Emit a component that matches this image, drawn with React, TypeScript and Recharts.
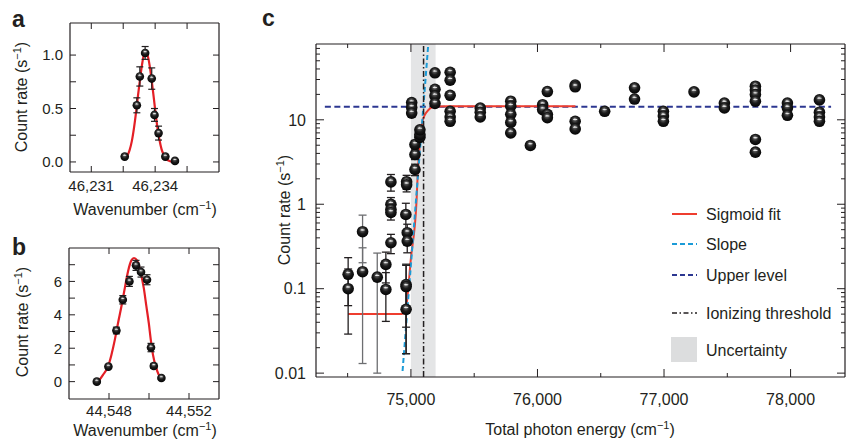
import React from "react";
import {
  ComposedChart,
  XAxis,
  YAxis,
  Line,
  Scatter,
  ErrorBar,
  ReferenceLine,
  ReferenceArea,
} from "recharts";

const INK = "#231f20";
const FONT = "'Liberation Sans', Arial, Helvetica, sans-serif";
const FIT_RED = "#e41f26";
const SIG_RED = "#ee3d2f";
const NAVY = "#2c3791";
const CYAN = "#1b9bd7";
const BAND = "#e4e5e6";

// ---- panel a
const aX = [46232.57, 46233.14, 46233.28, 46233.53, 46233.84, 46233.97, 46234.16, 46234.48, 46234.93];
const aY = [0.05, 0.53, 0.8, 1.02, 0.78, 0.44, 0.27, 0.05, 0.01];
const aErr = [0.015, 0.07, 0.09, 0.06, 0.1, 0.06, 0.065, 0.015, 0.01];
const aFitX = [
  46232.6, 46232.7, 46232.8, 46232.9, 46233.0, 46233.1, 46233.2, 46233.3, 46233.4, 46233.5, 46233.6, 46233.7,
  46233.8, 46233.9, 46234.0, 46234.1, 46234.2, 46234.3, 46234.4, 46234.5, 46234.6, 46234.7, 46234.8, 46234.9,
];
const aFitY = [
  0.03, 0.06, 0.11, 0.19, 0.31, 0.46, 0.63, 0.79, 0.93, 1.02, 1.02, 0.95, 0.82, 0.66, 0.49, 0.33, 0.21, 0.12,
  0.07, 0.03, 0.016, 0.007, 0.003, 0.001,
];
const aXMajor = [46231, 46234];
const aXLabels = ["46,231", "46,234"];
const aXMinor = [46232.5, 46235.5];
const aYMajor = [0, 0.5, 1];
const aYLabels = ["0.0", "0.5", "1.0"];
const aYMinor = [0.25, 0.75];

// ---- panel b
const bX = [44547.39, 44547.97, 44548.37, 44548.69, 44549.02, 44549.35, 44549.6, 44549.9, 44550.1, 44550.24, 44550.62];
const bY = [0.0, 0.9, 3.06, 4.9, 6.0, 6.96, 6.56, 6.1, 2.04, 0.94, 0.22];
const bErr = [0.05, 0.1, 0.2, 0.25, 0.3, 0.3, 0.3, 0.3, 0.25, 0.15, 0.1];
const bFitX = [
  44547.49, 44547.7, 44547.95, 44548.12, 44548.29, 44548.45, 44548.62, 44548.79, 44548.95, 44549.12, 44549.25,
  44549.4, 44549.57, 44549.74, 44549.87, 44549.99, 44550.09, 44550.2, 44550.34, 44550.47, 44550.62,
];
const bFitY = [0.04, 0.4, 0.9, 1.6, 2.5, 3.5, 4.5, 5.6, 6.6, 7.26, 7.4, 7.26, 6.6, 5.6, 4.5, 3.5, 2.5, 1.6, 0.9, 0.46, 0.2];
const bXMajor = [44548, 44552];
const bXLabels = ["44,548", "44,552"];
const bXMinor = [44550];
const bYMajor = [0, 2, 4, 6];
const bYLabels = ["0", "2", "4", "6"];
const bYMinor = [1, 3, 5, 7];

// ---- panel c
const cLowX = [
  74504, 74504, 74802, 74802, 74842, 74842, 74842, 74842, 74842, 74960, 74971, 74971, 74962, 74962, 74962, 74966,
  74966, 75032, 75032, 75032, 75071, 75071, 75071, 75006, 75006, 75006,
];
const cLowY = [
  0.148, 0.1, 0.194, 0.098, 1.84, 1.0, 0.87, 0.8, 0.35, 0.757, 0.46, 0.366, 0.112, 0.106, 0.057, 1.85, 1.7, 2.58,
  3.88, 5.1, 6.2, 6.7, 7.6, 16, 14, 12,
];
const cLowErr = [
  0.085, 0.071, 0.077, 0.057, 0.41, 0.2, 0.15, 0.15, 0.09, 0.27, 0.12, 0.1, 0.077, 0.089, 0.04, 0.35, 0.3, 0.4,
  0.5, 0.6, 0.6, 0.6, 0.6, 1, 1, 1,
];
const cGrayX = [74618, 74618, 74734];
const cGrayY = [0.473, 0.159, 0.137];
const cGrayErr = [0.27, 0.146, 0.127];
const cHighX = [
  75190, 75190, 75190, 75190, 75310, 75310, 75310, 75310, 75310, 75310, 75548, 75548, 75548, 75789, 75789, 75789,
  75789, 75789, 75944, 76041, 76041, 76078, 76078, 76078, 76298, 76298, 76298, 76298, 76531, 76767, 76767, 76995,
  76995, 76995, 77237, 77477, 77477, 77722, 77722, 77722, 77722, 77722, 77722, 77975, 77975, 77975, 78228, 78228,
  78228, 78228,
];
const cHighY = [
  36, 23, 19.2, 15.6, 36.5, 29.5, 19.5, 12.6, 10.8, 9.6, 13.8, 12.3, 10.8, 16.6, 14.5, 11.6, 9.3, 7.0, 4.97, 15.1,
  13.2, 21.6, 11.6, 10.6, 25.8, 24.6, 9.6, 7.8, 12.6, 23.9, 17.6, 12.6, 11.1, 9.6, 21.4, 15.8, 13.8, 25, 22.5, 19.9,
  16.6, 5.85, 4.14, 15.8, 13.8, 11.3, 17.2, 12.3, 10.8, 9.6,
];
const cHighErr = [
  2, 1.3, 1.1, 0.9, 2, 1.7, 1.1, 0.8, 0.7, 0.6, 0.8, 0.7, 0.7, 1, 0.9, 0.7, 0.6, 0.5, 0.4, 0.9, 0.8, 1.2, 0.7, 0.7,
  1.4, 1.4, 0.6, 0.5, 0.8, 1.3, 1, 0.8, 0.7, 0.6, 1.2, 0.9, 0.8, 1.4, 1.3, 1.2, 1, 0.45, 0.35, 0.9, 0.8, 0.7, 1,
  0.7, 0.7, 0.6,
];
const cFitX = [74504, 74925, 74950, 74962, 75000, 75045, 75053, 75071, 75084, 75119, 75190, 75300, 76300];
const cFitY = [0.05, 0.05, 0.053, 0.06, 0.23, 1.14, 2.15, 5.35, 8.4, 12.1, 14.4, 14.5, 14.5];
const cSlopeX = [74934, 75137];
const cSlopeY = [0.0106, 78];
const cUpperX = [74320, 78320];
const cUpperY = [14.3, 14.3];
const cThreshold = 75100;
const cBand = [75000, 75195];
const cXMajor = [75000, 76000, 77000, 78000];
const cXLabels = ["75,000", "76,000", "77,000", "78,000"];
const cXMinor = [74500, 75500, 76500, 77500];
const cYMajor = [0.01, 0.1, 1, 10];
const cYLabels = ["0.01", "0.1", "1", "10"];
const cYMinor = [
  0.02, 0.03, 0.04, 0.05, 0.06, 0.07, 0.08, 0.09, 0.2, 0.3, 0.4, 0.5, 0.6, 0.7, 0.8, 0.9, 2, 3, 4, 5, 6, 7, 8, 9,
  20, 30, 40, 50, 60, 70,
];

const zip = (xs: number[], ys: number[], es?: number[]) =>
  xs.map((x, i) => ({ x, y: ys[i], e: es ? es[i] : 0 }));
const sorted = (a: number[], b: number[]) => [...a, ...b].sort((p, q) => p - q);
const AXIS = { stroke: INK, strokeWidth: 1.2 };

// inward ticks drawn by hand, labels only on the majors
function axisTick(
  side: "left" | "right" | "top" | "bottom",
  gap: number,
  majors: number[],
  labels: string[],
  majorLen: number,
  minorLen: number,
  fontSize: number,
  withText: boolean
) {
  return (props: any) => {
    const { x, y, payload } = props;
    const v = payload.value;
    const i = majors.findIndex((t) => Math.abs(t - v) <= 1e-9 * Math.abs(t) + 1e-12);
    const label = i >= 0 ? labels[i] : "";
    const len = i >= 0 ? majorLen : minorLen;
    const tStyle = { fontFamily: FONT, fontSize, fill: INK, stroke: "none" };
    if (side === "bottom") {
      const ay = y - gap;
      return (
        <g>
          <line x1={x} x2={x} y1={ay} y2={ay - len} stroke={INK} strokeWidth={1} />
          {withText && label ? (
            <text x={x} y={y} dy="0.72em" textAnchor="middle" style={tStyle}>
              {label}
            </text>
          ) : null}
        </g>
      );
    }
    if (side === "top") {
      return <line x1={x} x2={x} y1={y} y2={y + len} stroke={INK} strokeWidth={1} />;
    }
    if (side === "left") {
      const ax = x + gap;
      return (
        <g>
          <line x1={ax} x2={ax + len} y1={y} y2={y} stroke={INK} strokeWidth={1} />
          {withText && label ? (
            <text x={x} y={y} dy="0.36em" textAnchor="end" style={tStyle}>
              {label}
            </text>
          ) : null}
        </g>
      );
    }
    return <line x1={x} x2={x - len} y1={y} y2={y} stroke={INK} strokeWidth={1} />;
  };
}

// shaded black bead with a thin white glint
const ball = (r: number) => (props: any) => {
  const { cx, cy } = props;
  if (cx == null || cy == null || Number.isNaN(cy)) return <g />;
  return (
    <g>
      <circle cx={cx} cy={cy} r={r} fill="url(#ballGrad)" />
      <ellipse cx={cx} cy={cy - r * 0.3} rx={r * 0.4} ry={r * 0.12} fill="#ffffff" opacity={0.8} />
    </g>
  );
};

function PanelA() {
  const xt = sorted(aXMajor, aXMinor);
  const yt = sorted(aYMajor, aYMinor);
  return (
    <ComposedChart width={230} height={220} margin={{ top: 22, right: 10, bottom: 18, left: 30 }}>
      <XAxis type="number" dataKey="x" domain={[46230, 46237]} ticks={xt} interval={0} allowDataOverflow
        tickSize={0} tickMargin={8} tickLine={false} axisLine={AXIS} height={30}
        tick={axisTick("bottom", 8, aXMajor, aXLabels, 6, 6, 15, true)} />
      <XAxis xAxisId="top" orientation="top" type="number" dataKey="x" domain={[46230, 46237]} ticks={xt}
        interval={0} allowDataOverflow tickSize={0} tickMargin={0} tickLine={false} axisLine={AXIS} height={1}
        tick={axisTick("top", 0, aXMajor, aXLabels, 6, 6, 15, false)} />
      <YAxis type="number" dataKey="y" domain={[-0.094, 1.3]} ticks={yt} interval={0} allowDataOverflow
        tickSize={0} tickMargin={7} tickLine={false} axisLine={AXIS} width={40}
        tick={axisTick("left", 7, aYMajor, aYLabels, 6, 6, 15, true)} />
      <YAxis yAxisId="right" orientation="right" type="number" domain={[-0.094, 1.3]} ticks={yt} interval={0}
        allowDataOverflow tickSize={0} tickMargin={0} tickLine={false} axisLine={AXIS} width={1}
        tick={axisTick("right", 0, aYMajor, aYLabels, 6, 6, 15, false)} />
      <Line data={zip(aFitX, aFitY)} dataKey="y" type="monotone" stroke={FIT_RED} strokeWidth={2.2} dot={false}
        activeDot={false} isAnimationActive={false} />
      <Scatter data={zip(aX, aY, aErr)} dataKey="y" shape={ball(4.3)} isAnimationActive={false}>
        <ErrorBar dataKey="e" direction="y" width={3.5} stroke={INK} strokeWidth={1.2} />
      </Scatter>
    </ComposedChart>
  );
}

function PanelB() {
  const xt = sorted(bXMajor, bXMinor);
  const yt = sorted(bYMajor, bYMinor);
  return (
    <ComposedChart width={230} height={219} margin={{ top: 27, right: 10, bottom: 10, left: 29 }}>
      <XAxis type="number" dataKey="x" domain={[44546, 44553.5]} ticks={xt} interval={0} allowDataOverflow
        tickSize={0} tickMargin={6} tickLine={false} axisLine={AXIS} height={30}
        tick={axisTick("bottom", 6, bXMajor, bXLabels, 6, 6, 15, true)} />
      <XAxis xAxisId="top" orientation="top" type="number" dataKey="x" domain={[44546, 44553.5]} ticks={xt}
        interval={0} allowDataOverflow tickSize={0} tickMargin={0} tickLine={false} axisLine={AXIS} height={1}
        tick={axisTick("top", 0, bXMajor, bXLabels, 6, 6, 15, false)} />
      <YAxis type="number" dataKey="y" domain={[-1.04, 8]} ticks={yt} interval={0} allowDataOverflow
        tickSize={0} tickMargin={7} tickLine={false} axisLine={AXIS} width={40}
        tick={axisTick("left", 7, bYMajor, bYLabels, 6, 6, 15, true)} />
      <YAxis yAxisId="right" orientation="right" type="number" domain={[-1.04, 8]} ticks={yt} interval={0}
        allowDataOverflow tickSize={0} tickMargin={0} tickLine={false} axisLine={AXIS} width={1}
        tick={axisTick("right", 0, bYMajor, bYLabels, 6, 6, 15, false)} />
      <Line data={zip(bFitX, bFitY)} dataKey="y" type="monotone" stroke={FIT_RED} strokeWidth={2.2} dot={false}
        activeDot={false} isAnimationActive={false} />
      <Scatter data={zip(bX, bY, bErr)} dataKey="y" shape={ball(4.3)} isAnimationActive={false}>
        <ErrorBar dataKey="e" direction="y" width={3.5} stroke={INK} strokeWidth={1.2} />
      </Scatter>
    </ComposedChart>
  );
}

function PanelC() {
  const xt = sorted(cXMajor, cXMinor);
  const yt = sorted(cYMajor, cYMinor);
  const xDom = [74250, 78430];
  const yDom = [0.009, 79];
  return (
    <ComposedChart width={597} height={439} margin={{ top: 43, right: 1, bottom: 32, left: 16 }}>
      <XAxis type="number" dataKey="x" domain={xDom} ticks={xt} interval={0} allowDataOverflow
        tickSize={0} tickMargin={16} tickLine={false} axisLine={AXIS} height={30}
        tick={axisTick("bottom", 16, cXMajor, cXLabels, 8, 4, 16, true)} />
      <XAxis xAxisId="top" orientation="top" type="number" dataKey="x" domain={xDom} ticks={xt} interval={0}
        allowDataOverflow tickSize={0} tickMargin={0} tickLine={false} axisLine={AXIS} height={1}
        tick={axisTick("top", 0, cXMajor, cXLabels, 8, 4, 16, false)} />
      <YAxis type="number" dataKey="y" scale="log" domain={yDom} ticks={yt} interval={0} allowDataOverflow
        tickSize={0} tickMargin={10} tickLine={false} axisLine={AXIS} width={50}
        tick={axisTick("left", 10, cYMajor, cYLabels, 8, 4, 16, true)} />
      <YAxis yAxisId="right" orientation="right" type="number" scale="log" domain={yDom} ticks={yt} interval={0}
        allowDataOverflow tickSize={0} tickMargin={0} tickLine={false} axisLine={AXIS} width={1}
        tick={axisTick("right", 0, cYMajor, cYLabels, 8, 4, 16, false)} />
      <ReferenceArea x1={cBand[0]} x2={cBand[1]} fill={BAND} fillOpacity={1} stroke="none" />
      <Line data={zip(cUpperX, cUpperY)} dataKey="y" type="linear" stroke={NAVY} strokeWidth={2}
        strokeDasharray="6 3.5" dot={false} activeDot={false} isAnimationActive={false} />
      <Line data={zip(cFitX, cFitY)} dataKey="y" type="monotone" stroke={SIG_RED} strokeWidth={2} dot={false}
        activeDot={false} isAnimationActive={false} />
      <Line data={zip(cSlopeX, cSlopeY)} dataKey="y" type="linear" stroke={CYAN} strokeWidth={2}
        strokeDasharray="5 3" dot={false} activeDot={false} isAnimationActive={false} />
      <ReferenceLine x={cThreshold} stroke={INK} strokeWidth={1.5} strokeDasharray="6 2.5 1.5 2.5" />
      <Scatter data={zip(cGrayX, cGrayY, cGrayErr)} dataKey="y" shape={ball(5.8)} isAnimationActive={false}>
        <ErrorBar dataKey="e" direction="y" width={4} stroke="#6d6e71" strokeWidth={1.3} />
      </Scatter>
      <Scatter data={zip(cLowX, cLowY, cLowErr)} dataKey="y" shape={ball(5.8)} isAnimationActive={false}>
        <ErrorBar dataKey="e" direction="y" width={4} stroke={INK} strokeWidth={1.3} />
      </Scatter>
      <Scatter data={zip(cHighX, cHighY, cHighErr)} dataKey="y" shape={ball(5.8)} isAnimationActive={false}>
        <ErrorBar dataKey="e" direction="y" width={4} stroke={INK} strokeWidth={1.3} />
      </Scatter>
    </ComposedChart>
  );
}

function UnitTitle({ x, y, vertical, lead, unit }: { x: number; y: number; vertical?: boolean; lead: string; unit: string }) {
  return (
    <text x={x} y={y} textAnchor="middle" fontSize={16} fill={INK} style={{ fontFamily: FONT }}
      transform={vertical ? `rotate(-90 ${x} ${y})` : undefined}>
      {lead} ({unit}
      <tspan dy={-6} fontSize={11}>−1</tspan>
      <tspan dy={6}>)</tspan>
    </text>
  );
}

function Overlay() {
  const rows = [
    { name: "Sigmoid fit", y: 214, stroke: SIG_RED, dash: undefined as string | undefined, w: 2 },
    { name: "Slope", y: 244, stroke: CYAN, dash: "5 3", w: 2 },
    { name: "Upper level", y: 275, stroke: NAVY, dash: "5 3", w: 2 },
    { name: "Ionizing threshold", y: 313, stroke: INK, dash: "5 2.5 1.5 2.5", w: 1.5 },
  ];
  const letter = { fontFamily: FONT, fontWeight: 700, fontSize: 23, fill: INK };
  return (
    <svg width={847} height={439} style={{ position: "absolute", left: 0, top: 0, pointerEvents: "none" }}>
      <defs>
        <radialGradient id="ballGrad" cx="0.5" cy="0.45" r="0.6" fx="0.45" fy="0.3">
          <stop offset="0" stopColor="#b8b8b8" />
          <stop offset="0.18" stopColor="#5a5a5a" />
          <stop offset="0.5" stopColor="#1c1c1c" />
          <stop offset="1" stopColor="#000000" />
        </radialGradient>
      </defs>
      <text x={12} y={27} style={letter}>a</text>
      <text x={12} y={255} style={letter}>b</text>
      <text x={262} y={26} style={letter}>c</text>
      <UnitTitle x={27} y={97} vertical lead="Count rate" unit="s" />
      <UnitTitle x={145} y={215} lead="Wavenumber" unit="cm" />
      <UnitTitle x={27.5} y={322} vertical lead="Count rate" unit="s" />
      <UnitTitle x={145} y={436} lead="Wavenumber" unit="cm" />
      <UnitTitle x={289.5} y={210} vertical lead="Count rate" unit="s" />
      <UnitTitle x={580} y={435} lead="Total photon energy" unit="cm" />
      {rows.map((r) => (
        <g key={r.name}>
          <line x1={672} x2={697} y1={r.y} y2={r.y} stroke={r.stroke} strokeWidth={r.w} strokeDasharray={r.dash} />
          <text x={706} y={r.y} dy="0.36em" fontSize={16} fill={INK} style={{ fontFamily: FONT }}>
            {r.name}
          </text>
        </g>
      ))}
      <rect x={671} y={337} width={26} height={25} fill="#dcddde" />
      <text x={706} y={350} dy="0.36em" fontSize={16} fill={INK} style={{ fontFamily: FONT }}>
        Uncertainty
      </text>
    </svg>
  );
}

export default function App() {
  return (
    <div style={{ position: "absolute", left: 0, top: 0, width: 847, height: 439, background: "#fff", fontFamily: FONT }}>
      <div style={{ position: "absolute", left: 0, top: 0 }}>
        <PanelA />
      </div>
      <div style={{ position: "absolute", left: 0, top: 220 }}>
        <PanelB />
      </div>
      <div style={{ position: "absolute", left: 250, top: 0 }}>
        <PanelC />
      </div>
      <Overlay />
    </div>
  );
}
